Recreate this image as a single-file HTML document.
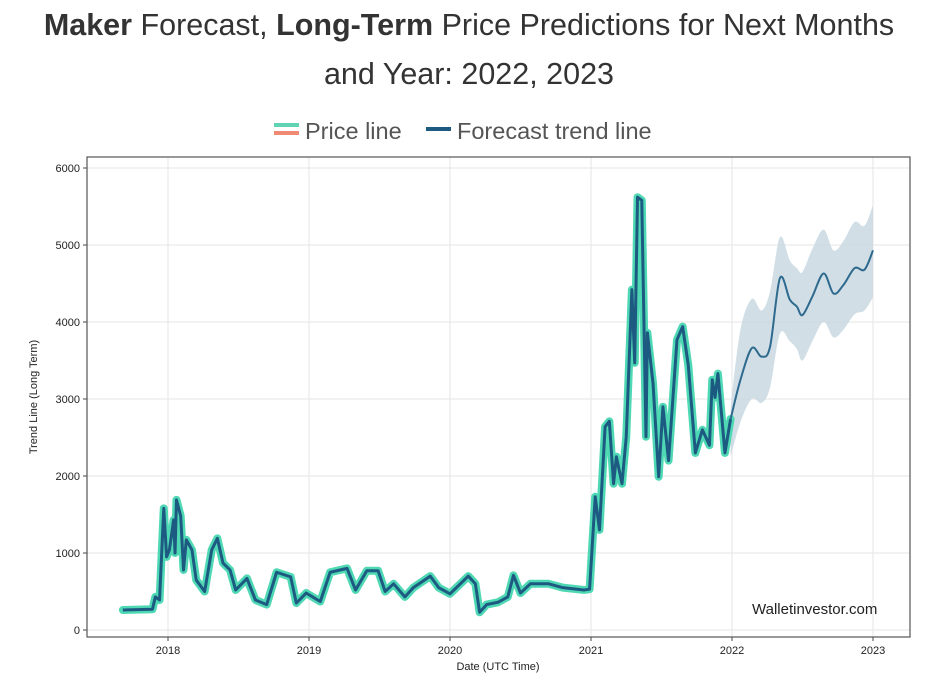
<!DOCTYPE html>
<html><head><meta charset="utf-8"><style>
html,body{margin:0;padding:0;background:#fff;}
body{width:940px;height:686px;overflow:hidden;font-family:"Liberation Sans",sans-serif;}
</style></head><body>
<svg id="chart" width="940" height="686" viewBox="0 0 940 686" xmlns="http://www.w3.org/2000/svg" font-family="Liberation Sans, sans-serif">
<text x="469" y="35" text-anchor="middle" font-size="30.5" fill="#333"><tspan font-weight="bold">Maker</tspan> Forecast, <tspan font-weight="bold">Long-Term</tspan> Price Predictions for Next Months</text>
<text x="469" y="84" text-anchor="middle" font-size="30.5" fill="#333">and Year: 2022, 2023</text>
<g>
<g>
<rect x="274" y="123" width="25" height="4" fill="#5fd3b3"/><rect x="274" y="131" width="25" height="4" fill="#f08a72"/>
<text x="305" y="139" font-size="23.5" fill="#555">Price line</text></g>
<g>
<rect x="426" y="127" width="25" height="4" fill="#1d5a82"/>
<text x="457" y="139" font-size="23.5" fill="#555">Forecast trend line</text></g>
</g>
<g id="plot"></g>
</svg>
<script>
const priceDates=[2017.68,2017.89,2017.91,2017.94,2017.97,2017.99,2018.01,2018.04,2018.05,2018.06,2018.09,2018.11,2018.13,2018.17,2018.2,2018.26,2018.31,2018.35,2018.39,2018.44,2018.48,2018.56,2018.62,2018.70,2018.77,2018.87,2018.91,2018.98,2019.08,2019.15,2019.27,2019.33,2019.41,2019.49,2019.54,2019.6,2019.68,2019.74,2019.86,2019.92,2020.0,2020.13,2020.18,2020.21,2020.26,2020.34,2020.41,2020.45,2020.5,2020.57,2020.7,2020.8,2020.95,2020.99,2021.03,2021.06,2021.1,2021.13,2021.16,2021.18,2021.22,2021.25,2021.29,2021.31,2021.33,2021.36,2021.39,2021.4,2021.44,2021.48,2021.51,2021.55,2021.61,2021.65,2021.69,2021.74,2021.79,2021.84,2021.86,2021.88,2021.9,2021.95,2021.99];
const priceValues=[260,270,430,390,1580,950,1040,1430,1000,1690,1480,780,1170,1040,650,500,1040,1190,870,780,520,670,390,330,750,690,350,480,370,750,800,520,770,770,500,600,430,550,700,550,470,700,600,230,330,360,430,710,480,600,600,550,520,530,1730,1300,2640,2710,1900,2250,1900,2510,4420,3470,5620,5580,2510,3860,3200,1990,2900,2200,3770,3940,3440,2300,2600,2400,3250,3020,3330,2300,2740];
const forecastDates=[2021.99,2022.06,2022.14,2022.21,2022.27,2022.34,2022.41,2022.46,2022.5,2022.57,2022.65,2022.72,2022.79,2022.87,2022.94,2023.0];
const forecastValues=[2740,3250,3660,3550,3680,4570,4290,4200,4090,4330,4630,4370,4480,4700,4680,4930];
const forecastUpper=[2900,3900,4300,4150,4400,5100,4800,4700,4650,4950,5200,4930,5050,5300,5250,5520];
const forecastLower=[2250,2700,3000,2950,3150,3850,3750,3650,3500,3750,4000,3800,3900,4100,4150,4320];
const yTicks=[0,1000,2000,3000,4000,5000,6000];
const xTicks=[2018,2019,2020,2021,2022,2023];

const X=t=>168+(t-2018)*141;
const Y=v=>630-v*0.077;
const ns="http://www.w3.org/2000/svg";
const plot=document.getElementById('plot');
function mk(tag,attrs,parent){const e=document.createElementNS(ns,tag);for(const k in attrs)e.setAttribute(k,attrs[k]);(parent||plot).appendChild(e);return e;}
function smooth(pts,start){
  let d=start?'M'+pts[0][0]+','+pts[0][1]:'L'+pts[0][0]+','+pts[0][1];
  for(let i=0;i<pts.length-1;i++){
    const p0=pts[Math.max(i-1,0)],p1=pts[i],p2=pts[i+1],p3=pts[Math.min(i+2,pts.length-1)];
    const c1x=p1[0]+(p2[0]-p0[0])/6,c1y=p1[1]+(p2[1]-p0[1])/6;
    const c2x=p2[0]-(p3[0]-p1[0])/6,c2y=p2[1]-(p3[1]-p1[1])/6;
    d+='C'+c1x+','+c1y+' '+c2x+','+c2y+' '+p2[0]+','+p2[1];
  }
  return d;
}
const L=87,T=157,R=910,B=637;
mk('rect',{x:L,y:T,width:R-L,height:B-T,fill:'#fff'});
yTicks.forEach(v=>{
  const g=mk('line',{x1:L,x2:R,y1:Y(v),y2:Y(v),stroke:'#e6e6e6','stroke-width':1});
  
  
  mk('line',{x1:L-4,x2:L,y1:Y(v),y2:Y(v),stroke:'#444'});
  const t=mk('text',{x:L-7,y:Y(v)+4,'text-anchor':'end','font-size':11,fill:'#222'});t.textContent=v;
  
  
});
xTicks.forEach(v=>{
  const g=mk('line',{x1:X(v),x2:X(v),y1:T,y2:B,stroke:'#e6e6e6','stroke-width':1});
  
  
  mk('line',{x1:X(v),x2:X(v),y1:B,y2:B+4,stroke:'#444'});
  const t=mk('text',{x:X(v),y:B+17,'text-anchor':'middle','font-size':11,fill:'#222'});t.textContent=v;
  
  
});
const up=forecastDates.map((t,i)=>[X(t),Y(forecastUpper[i])]);
const lo=forecastDates.map((t,i)=>[X(t),Y(forecastLower[i])]).reverse();
const band=mk('path',{d:smooth(up,true)+smooth(lo,false)+'Z',fill:'#c9d8e2',opacity:0.85});


const pp=priceDates.map((t,i)=>X(t)+','+Y(priceValues[i])).join(' ');
const pg=mk('polyline',{points:pp,fill:'none',stroke:'#4fd8b4','stroke-width':8,'stroke-linejoin':'round','stroke-linecap':'round'});


const pl=mk('polyline',{points:pp,fill:'none',stroke:'#1d5a82','stroke-width':3,'stroke-linejoin':'round'});


const fpts=forecastDates.map((t,i)=>[X(t),Y(forecastValues[i])]);
const fl=mk('path',{d:smooth(fpts,true),fill:'none',stroke:'#2d6a8e','stroke-width':2,'stroke-linejoin':'round'});


const fr=mk('rect',{x:L,y:T,width:R-L,height:B-T,fill:'none',stroke:'#555','stroke-width':1.2});


const yt=mk('text',{x:0,y:0,transform:'translate(37,397) rotate(-90)','text-anchor':'middle','font-size':11,fill:'#222'});yt.textContent='Trend Line (Long Term)';


const xt=mk('text',{x:498,y:670,'text-anchor':'middle','font-size':11,fill:'#222'});xt.textContent='Date (UTC Time)';


const wm=mk('text',{x:752,y:614,'font-size':15,fill:'#222'});wm.textContent='Walletinvestor.com';


</script>
</body></html>
